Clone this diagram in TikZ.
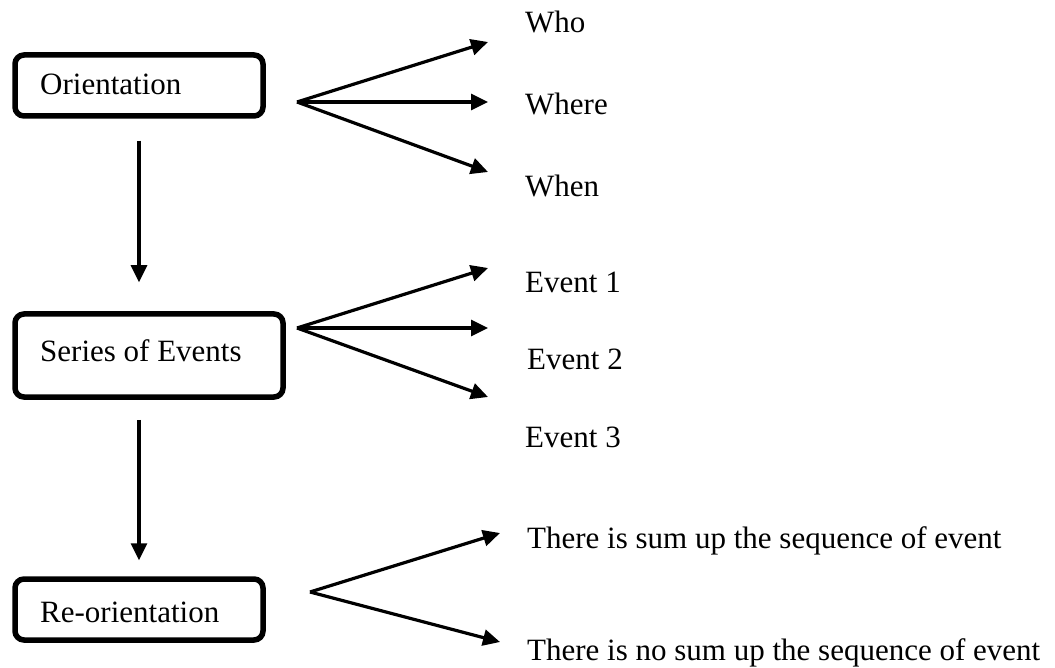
\documentclass[tikz,border=0pt]{standalone}
\usepackage{fontspec}
\setmainfont{Liberation Serif}
\usetikzlibrary{arrows.meta,calc}
\begin{document}
\begin{tikzpicture}[x=1pt,y=-1pt,
  box/.style={draw=black,line width=5.5pt,rounded corners=9pt,inner sep=0pt},
  lbl/.style={anchor=base west,inner sep=0pt,font=\fontsize{31}{37}\selectfont},
  conn/.style={line width=3.2pt,-{Triangle[length=17pt,width=16pt]}}]
\useasboundingbox (0,0) rectangle (1055,668);
% boxes
\node[box,minimum width=248pt,minimum height=61pt] (ori) at (139,85.5) {};
\node[box,minimum width=268pt,minimum height=83pt] (ser) at (149,355.5) {};
\node[box,minimum width=248pt,minimum height=61pt] (reo) at (139,609.5) {};
\node[lbl] (oriT) at (40,95) {Orientation};
\node[lbl] (serT) at (40,361) {Series of Events};
\node[lbl] (reoT) at (40,622) {Re-orientation};
% vertical connectors
\draw[conn,shorten <=22pt,shorten >=29pt] (ori.south) -- (ori.south |- ser.north);
\draw[conn,shorten <=20pt,shorten >=16pt] (reo.north |- ser.south) -- (reo.north);
% labels
\node[lbl] (who) at (525,33) {Who};
\node[lbl] (where) at (525,115) {Where};
\node[lbl] (when) at (525,197) {When};
\node[lbl] (ev1) at (525,293) {Event 1};
\node[lbl] (ev2) at (527,370) {Event 2};
\node[lbl] (ev3) at (525,447) {Event 3};
\node[lbl] (sum) at (527,548) {There is sum up the sequence of event};
\node[lbl] (nosum) at (527,660) {There is no sum up the sequence of event};
% fork points and tips
\coordinate (f1) at (297,102);
\coordinate (t11) at (488,42);
\coordinate (t12) at (488,102);
\coordinate (t13) at (488,172);
\coordinate (f2) at (297,328);
\coordinate (t21) at (488,268);
\coordinate (t22) at (488,328);
\coordinate (t23) at (488,397);
\coordinate (f3) at (310,592);
\coordinate (t31) at (500,533);
\coordinate (t32) at (500,642);
\draw[conn] (f1) -- (t11);
\draw[conn] (f1) -- (t12);
\draw[conn] (f1) -- (t13);
\draw[conn] (f2) -- (t21);
\draw[conn] (f2) -- (t22);
\draw[conn] (f2) -- (t23);
\draw[conn] (f3) -- (t31);
\draw[conn] (f3) -- (t32);
\end{tikzpicture}
\end{document}
